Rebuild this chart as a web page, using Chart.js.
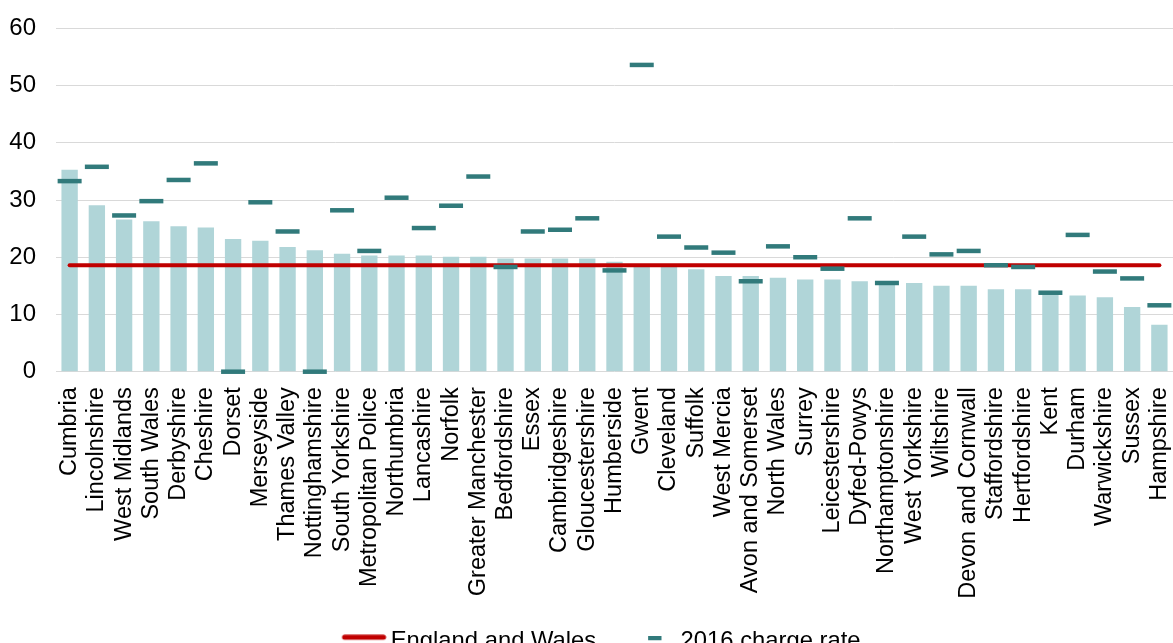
<!DOCTYPE html>
<html>
<head>
<meta charset="utf-8">
<script src="https://cdn.jsdelivr.net/npm/chart.js@4.4.1/dist/chart.umd.min.js"></script>
<style>
  html, body { margin: 0; padding: 0; background: #fff; overflow: hidden; }
  #wrap { position: relative; width: 1173px; height: 643px; }
</style>
</head>
<body>
<div id="wrap"><canvas id="c"></canvas></div>
<script>
const categories = ["Cumbria","Lincolnshire","West Midlands","South Wales","Derbyshire","Cheshire","Dorset","Merseyside","Thames Valley","Nottinghamshire","South Yorkshire","Metropolitan Police","Northumbria","Lancashire","Norfolk","Greater Manchester","Bedfordshire","Essex","Cambridgeshire","Gloucestershire","Humberside","Gwent","Cleveland","Suffolk","West Mercia","Avon and Somerset","North Wales","Surrey","Leicestershire","Dyfed-Powys","Northamptonshire","West Yorkshire","Wiltshire","Devon and Cornwall","Staffordshire","Hertfordshire","Kent","Durham","Warwickshire","Sussex","Hampshire"];

const currentRate = [35.3,29.1,26.6,26.3,25.4,25.2,23.2,22.9,21.8,21.2,20.6,20.3,20.3,20.3,20.1,20.1,19.8,19.8,19.8,19.8,19.2,18.6,18.3,17.9,16.7,16.7,16.4,16.1,16.1,15.8,15.4,15.5,15.0,15.0,14.4,14.4,13.7,13.3,13.0,11.3,8.2];

const rate2016 = [33.3,35.8,27.3,29.8,33.5,36.4,0,29.6,24.5,0,28.2,21.1,30.4,25.1,29.0,34.1,18.3,24.5,24.8,26.8,17.7,53.6,23.6,21.7,20.8,15.8,21.9,20.0,18.0,26.8,15.5,23.6,20.5,21.1,18.6,18.3,13.8,23.9,17.5,16.3,11.6];

const englandWales = 18.6;
const englandWalesLine = categories.map(() => englandWales);

const yTicks = [0,10,20,30,40,50,60];

const BAR = '#B0D5D8';
const TEAL = '#317A7B';
const RED = '#C00000';
const FONT = '"Liberation Sans", Arial, sans-serif';

function makeSwatch(w, h, x0, len, yc, thick, color, round) {
  const c = document.createElement('canvas');
  c.width = w; c.height = h;
  const g = c.getContext('2d');
  g.strokeStyle = color;
  g.lineWidth = thick;
  g.lineCap = round ? 'round' : 'butt';
  g.beginPath();
  const off = round ? thick / 2 : 0;
  g.moveTo(x0 + off, yc);
  g.lineTo(x0 + len - off, yc);
  g.stroke();
  return c;
}
const redSwatch = makeSwatch(78, 14, 33.37, 44, 3, 5, RED, true);
const tealSwatch = makeSwatch(49, 10, 35.07, 13.4, 2, 4, TEAL, false);

const chart = new Chart(document.getElementById('c'), {
  type: 'bar',
  data: {
    labels: categories,
    datasets: [
      {
        label: 'Current charge rate',
        data: currentRate,
        backgroundColor: BAR,
        borderWidth: 0,
        barPercentage: 0.6,
        categoryPercentage: 1.0,
        order: 3
      },
      {
        type: 'line',
        label: 'England and Wales',
        data: englandWalesLine,
        borderColor: RED,
        backgroundColor: RED,
        borderWidth: 4,
        borderCapStyle: 'round',
        pointRadius: 0,
        pointHoverRadius: 0,
        fill: false,
        order: 2
      },
      {
        type: 'line',
        label: '2016 charge rate',
        data: rate2016,
        showLine: false,
        pointStyle: 'line',
        pointRadius: 12,
        pointHoverRadius: 12,
        pointBorderWidth: 4.5,
        pointHoverBorderWidth: 4.5,
        borderColor: TEAL,
        backgroundColor: TEAL,
        clip: false,
        order: 1
      }
    ]
  },
  options: {
    responsive: true,
    maintainAspectRatio: false,
    devicePixelRatio: 1,
    animation: false,
    layout: { autoPadding: false, padding: { top: 28.3, left: 0, right: -4, bottom: -20.15 } },
    plugins: {
      title: { display: false },
      tooltip: { enabled: false },
      legend: {
        position: 'bottom',
        labels: {
          usePointStyle: true,
          pointStyleWidth: 62.35,
          padding: 10.15,
          color: '#000',
          font: { family: FONT, size: 23.8 },
          generateLabels(chart) {
            const items = Chart.defaults.plugins.legend.labels.generateLabels(chart);
            return items
              .filter(it => it.datasetIndex !== 0)
              .sort((a, b) => a.datasetIndex - b.datasetIndex)
              .map(it => {
                it.pointStyle = it.datasetIndex === 1 ? redSwatch : tealSwatch;
                return it;
              });
          }
        }
      }
    },
    scales: {
      x: {
        grid: { display: false, drawTicks: false },
        border: { display: false },
        ticks: {
          autoSkip: false,
          minRotation: 90,
          maxRotation: 90,
          padding: 15.5,
          color: '#000',
          font: { family: FONT, size: 23.5 }
        },
        afterFit(s) { s.height = 247.5; s.paddingLeft = 0; s.paddingRight = 0; }
      },
      y: {
        min: 0,
        max: 60,
        afterBuildTicks(s) { s.ticks = yTicks.map(v => ({ value: v })); },
        grid: { color: '#D9D9D9', lineWidth: 1, drawTicks: false },
        border: { display: false },
        ticks: {
          padding: 20,
          color: '#000',
          font: { family: FONT, size: 24 }
        },
        afterFit(s) { s.width = 56; s.paddingTop = 0; s.paddingBottom = 0; }
      }
    }
  }
});
</script>
</body>
</html>
